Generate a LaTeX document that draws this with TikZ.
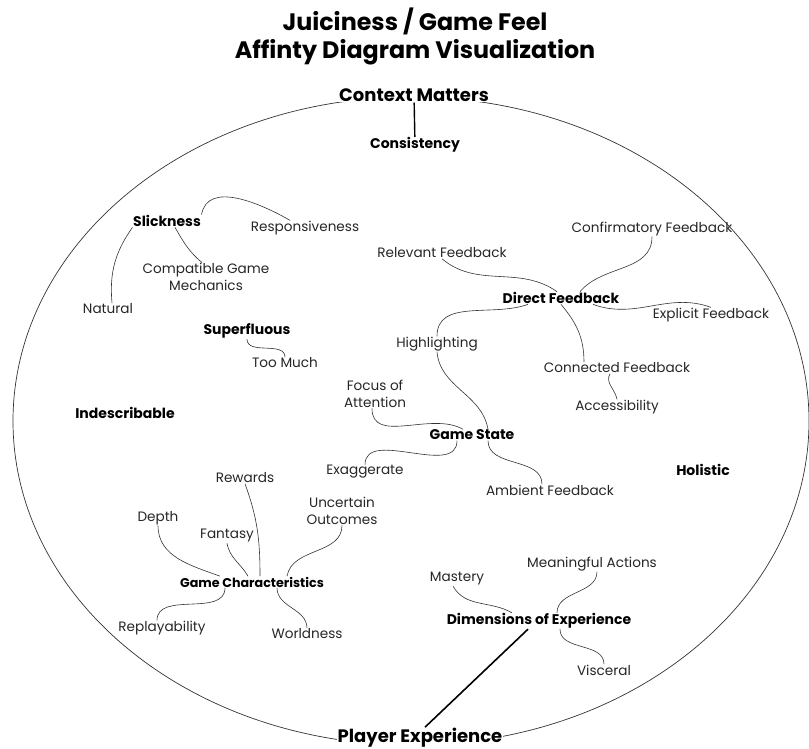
\documentclass[tikz,border=0pt]{standalone}
\usepackage{fontspec}
\setmainfont{Poppins}

\begin{document}
\begin{tikzpicture}[x=1pt, y=1pt,
	leaf/.style={font=\fontsize{13.6}{17}\selectfont, align=center, inner sep=0.5pt, text=black!85},
	hub/.style={font=\fontsize{14}{16}\selectfont\bfseries, inner sep=0.5pt},
	rimlabel/.style={font=\fontsize{18}{20}\selectfont\bfseries, fill=white, inner sep=1pt},
	link/.style={draw=black!80, line width=0.6pt},
	bar/.style={draw=black, line width=1.6pt}]
	\useasboundingbox (0,0) rectangle (809,-748);
	% title
	\node[font=\fontsize{23.8}{28}\selectfont\bfseries, align=center] (T) at (415,-36) {Juiciness / Game Feel\\Affinty Diagram Visualization};
	% outer ellipse
	\draw[draw=black!80, line width=0.7pt] (411,-421) ellipse [x radius=398, y radius=324];
	\node[rimlabel] (CM) at (414,-95) {Context Matters};
	\node[rimlabel] (PE) at (420,-738) {Player Experience};

	% hubs
	\node[hub] (CS) at (415,-145) {Consistency};
	\node[hub] (SL) at (167,-221) {Slickness};
	\node[hub] (SU) at (247,-331) {Superfluous};
	\node[hub] (IN) at (125,-413) {Indescribable};
	\node[hub] (DF) at (561,-298) {Direct Feedback};
	\node[hub] (GS) at (472,-435) {Game State};
	\node[hub] (HO) at (703,-470) {Holistic};
	\node[hub, font=\fontsize{12.7}{15}\selectfont\bfseries] (GC) at (252,-582) {Game Characteristics};
	\node[hub] (DE) at (539,-621) {Dimensions of Experience};

	% leaves
	\node[leaf] (RE) at (305,-228) {Responsiveness};
	\node[leaf] (CG) at (206,-277) {Compatible Game\\Mechanics};
	\node[leaf] (NA) at (108,-309) {Natural};
	\node[leaf] (TM) at (285,-363) {Too Much};
	\node[leaf] (RF) at (442,-253) {Relevant Feedback};
	\node[leaf] (CF) at (652,-229) {Confirmatory Feedback};
	\node[leaf] (EF) at (711,-315) {Explicit Feedback};
	\node[leaf] (HL) at (437,-344) {Highlighting};
	\node[leaf] (CN) at (617,-368) {Connected Feedback};
	\node[leaf] (AC) at (617,-407) {Accessibility};
	\node[leaf] (FA) at (375,-394) {Focus of\\Attention};
	\node[leaf] (EX) at (365,-472) {Exaggerate};
	\node[leaf] (AF) at (550,-490) {Ambient Feedback};
	\node[leaf] (RW) at (245,-478) {Rewards};
	\node[leaf] (UO) at (342,-511) {Uncertain\\Outcomes};
	\node[leaf] (DP) at (158,-518) {Depth};
	\node[leaf] (FN) at (227,-536) {Fantasy};
	\node[leaf] (RP) at (162,-628) {Replayability};
	\node[leaf] (WO) at (307,-634) {Worldness};
	\node[leaf] (MA) at (457,-579) {Mastery};
	\node[leaf] (MN) at (592,-564) {Meaningful Actions};
	\node[leaf] (VI) at (604,-670) {Visceral};

	% connectors
	\draw[draw=black, line width=1.4pt] (CM) -- (CS);
	\draw[bar] ([xshift=-11]DE.south) -- ([xshift=5]PE.north);
	\path[link]
		(SL.north east) edge[out=80, in=150] ([xshift=-15]RE.north)
		(SL.south west) edge[out=235, in=95] ([xshift=4]NA.north)
		([xshift=8]SL.south) edge[out=-60, in=140] ([xshift=-4]CG.north)
		(SU.south) edge[out=-90, in=90] (TM.north)
		(RF.south) edge[out=-40, in=145] ([xshift=-4]DF.north)
		(CF.south) edge[out=-90, in=50] ([xshift=19]DF.north)
		([xshift=32]DF.south) edge[out=-20, in=160] (EF.north)
		([xshift=-33]DF.south) edge[out=200, in=90] (HL.north)
		(DF.south) edge[out=-50, in=90] ([xshift=-33]CN.north)
		([xshift=-7]CN.south) edge[out=-120, in=100] (AC.north)
		(HL.south) edge[out=-85, in=100] ([xshift=16]GS.north)
		([xshift=-3]FA.south) edge[out=-90, in=150] ([xshift=-9]GS.north)
		([xshift=-15]GS.south) edge[out=-90, in=90] (EX.north)
		([xshift=16]GS.south) edge[out=-90, in=90] ([xshift=-8]AF.north)
		([xshift=-32]GC.north) edge[out=160, in=-90] (DP.south)
		([xshift=-4]GC.north) edge[out=120, in=-80] (FN.south)
		([xshift=8]GC.north) edge[out=90, in=-70] (RW.south)
		([xshift=35]GC.north) edge[out=80, in=-90] (UO.south)
		([xshift=-27]GC.south) edge[out=-90, in=90] ([xshift=-5]RP.north)
		([xshift=25]GC.south) edge[out=-90, in=90] (WO.north)
		([xshift=-4]MA.south) edge[out=-60, in=150] ([xshift=-27]DE.north)
		([xshift=5]MN.south) edge[out=-90, in=90] ([xshift=18]DE.north)
		([xshift=21]DE.south) edge[out=-90, in=90] (VI.north);
\end{tikzpicture}
\end{document}
